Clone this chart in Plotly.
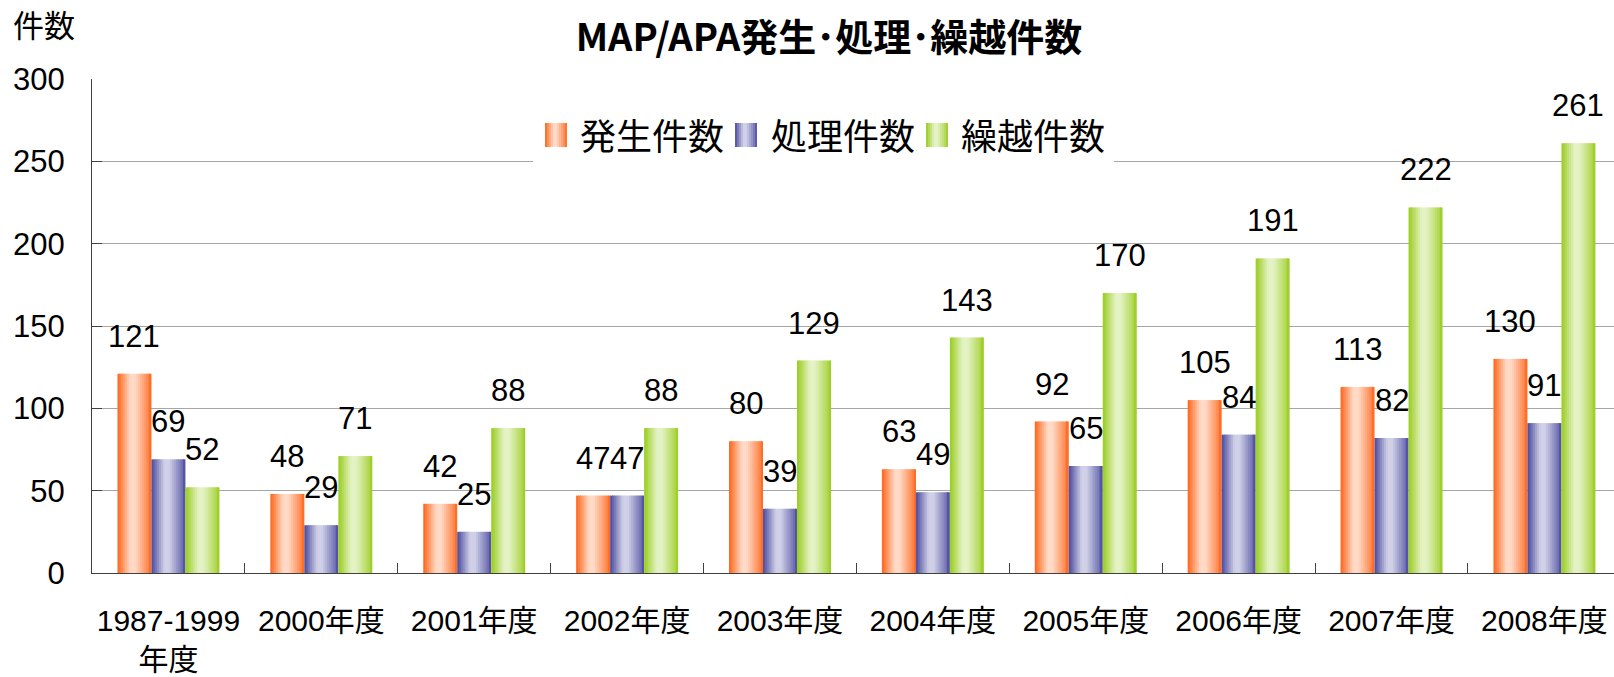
import plotly.graph_objects as go

# ---- data ----
categories = ["1987-1999<br>年度", "2000年度", "2001年度", "2002年度", "2003年度",
              "2004年度", "2005年度", "2006年度", "2007年度", "2008年度"]
hassei = [121, 48, 42, 47, 80, 63, 92, 105, 113, 130]      # 発生件数
shori = [69, 29, 25, 47, 39, 49, 65, 84, 82, 91]            # 処理件数
kurikoshi = [52, 71, 88, 88, 129, 143, 170, 191, 222, 261]  # 繰越件数
series_names = ["発生件数", "処理件数", "繰越件数"]
y_ticks = [0, 50, 100, 150, 200, 250, 300]

# ---- styles ----
W, H = 1614, 677
ML, MR, MT, MB = 92, 0, 79, 104
FONT = "Liberation Sans, Arial, Noto Sans CJK JP, sans-serif"
CJK = "Noto Sans CJK JP, sans-serif"
palette = [
    ((255, 100, 26), (255, 218, 198)),   # orange dark, light
    ((74, 74, 158), (208, 208, 232)),    # blue
    ((153, 204, 30), (228, 242, 196)),   # green
]
# lightness profile across bar width (pos, lightness)
profile = [(0.0, 0.0), (0.08, 0.2), (0.38, 1.0), (0.52, 1.0), (0.9, 0.3), (1.0, 0.0)]


def light_at(p):
    for (p0, l0), (p1, l1) in zip(profile[:-1], profile[1:]):
        if p0 <= p <= p1:
            return l0 + (l1 - l0) * (p - p0) / (p1 - p0)
    return 0.0


def mix(dark, light, t):
    return "rgb(%d,%d,%d)" % tuple(round(d + (l - d) * t) for d, l in zip(dark, light))


n_cat = len(categories)
x_hi = 9.455
group_w = 0.667
bar_w = group_w / 3
N = 18

fig = go.Figure()
values = [hassei, shori, kurikoshi]
for s, vals in enumerate(values):
    dark, light = palette[s]
    start = -group_w / 2 + s * bar_w
    sw = bar_w / N
    for j in range(N):
        p = (j + 0.5) / N
        width = sw * (1.6 if j < N - 1 else 1.0)
        fig.add_trace(go.Bar(
            x=categories, y=vals, width=width, offset=start + j * sw,
            marker=dict(color=mix(dark, light, light_at(p)), line=dict(width=0)),
            showlegend=False, hoverinfo="skip",
        ))

# data labels
annotations = []
for s, vals in enumerate(values):
    center = -group_w / 2 + (s + 0.5) * bar_w
    for i, v in enumerate(vals):
        annotations.append(dict(
            x=i + center, y=v, xref="x", yref="y", text=str(v), showarrow=False,
            yanchor="bottom", xanchor="center", yshift=18,
            font=dict(family=FONT, size=31, color="black"),
        ))

PW = W - ML - MR
PH = H - MT - MB


def px(xp):
    return (xp - ML) / PW


def py(yp):
    return (H - MB - yp) / PH


shapes = []
# legend background
shapes.append(dict(type="rect", xref="paper", yref="paper",
                   x0=px(533), x1=px(1114), y0=py(172), y1=py(96),
                   fillcolor="white", line=dict(width=0), layer="above"))
legend_sw_x = [545, 735, 926]
legend_tx_x = [578, 769, 959]
for s in range(3):
    dark, light = palette[s]
    M = 11
    x0 = legend_sw_x[s]
    wsw = 22
    for j in range(M):
        p = (j + 0.5) / M
        shapes.append(dict(type="rect", xref="paper", yref="paper",
                           x0=px(x0 + j * wsw / M), x1=px(x0 + (j + 1) * wsw / M + (0.6 if j < M - 1 else 0)),
                           y0=py(147), y1=py(123),
                           fillcolor=mix(dark, light, light_at(p)), line=dict(width=0), layer="above"))
    annotations.append(dict(x=px(legend_tx_x[s]), y=py(134), xref="paper", yref="paper",
                            text=series_names[s], showarrow=False, xanchor="left", yanchor="middle",
                            font=dict(family=CJK, size=36, color="black")))

# y-axis title
annotations.append(dict(x=px(11), y=py(24), xref="paper", yref="paper", text="件数",
                        showarrow=False, xanchor="left", yanchor="middle",
                        font=dict(family=CJK, size=31, color="black")))

fig.update_layout(
    width=W, height=H,
    margin=dict(l=ML, r=MR, t=MT, b=MB, pad=0, autoexpand=False),
    paper_bgcolor="white", plot_bgcolor="white",
    barmode="overlay",
    showlegend=False,
    title=dict(text="<b>MAP/APA発生･処理･繰越件数</b>", x=(829 - ML) / PW, xref="paper",
               xanchor="center", y=1 - 38 / H, yref="container", yanchor="middle",
               font=dict(family=CJK, size=38, color="black")),
    font=dict(family=FONT, size=30, color="black"),
    annotations=annotations,
    shapes=shapes,
)
fig.update_xaxes(
    type="category", range=[-0.5, x_hi], automargin=False,
    showline=True, linecolor="#404040", linewidth=1,
    ticks="inside", tickson="boundaries", ticklen=10, tickcolor="#404040",
    showgrid=False, tickfont=dict(family=FONT, size=30, color="black"),
    ticklabelstandoff=21,
)
fig.update_yaxes(
    range=[0, 300], tickvals=y_ticks, automargin=False,
    showline=True, linecolor="#404040", linewidth=1,
    ticks="inside", ticklen=10, tickcolor="#404040",
    showgrid=True, gridcolor="#A6A6A6", gridwidth=1, zeroline=False,
    tickfont=dict(family=FONT, size=31, color="black"),
    ticklabelstandoff=20,
)

fig.write_html("out.html", config={"displayModeBar": False},
               post_script="document.body.style.margin='0';document.body.style.padding='0';"
                           "document.body.style.overflow='hidden';")
